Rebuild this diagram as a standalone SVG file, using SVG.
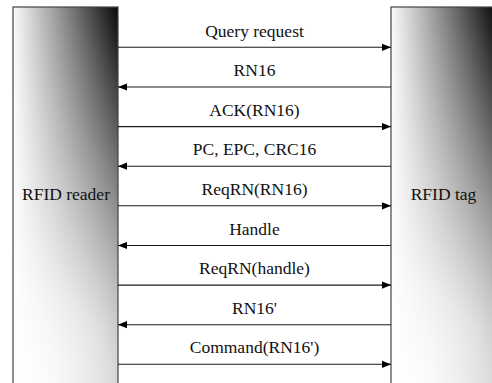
<svg xmlns="http://www.w3.org/2000/svg" width="492" height="383" viewBox="0 0 492 383">
  <defs>
    <linearGradient id="gL" gradientUnits="userSpaceOnUse" x1="13" y1="0" x2="118" y2="0">
      <stop offset="0" stop-color="#fbfbfb"/>
      <stop offset="1" stop-color="#080808"/>
    </linearGradient>
    <linearGradient id="gR" gradientUnits="userSpaceOnUse" x1="391" y1="0" x2="496" y2="0">
      <stop offset="0" stop-color="#fbfbfb"/>
      <stop offset="1" stop-color="#080808"/>
    </linearGradient>
    <radialGradient id="wL" gradientUnits="userSpaceOnUse" cx="13" cy="383" r="390">
      <stop offset="0" stop-color="#ffffff" stop-opacity="1"/>
      <stop offset="0.25" stop-color="#ffffff" stop-opacity="0.85"/>
      <stop offset="1" stop-color="#ffffff" stop-opacity="0"/>
    </radialGradient>
    <radialGradient id="wR" gradientUnits="userSpaceOnUse" cx="391" cy="383" r="390">
      <stop offset="0" stop-color="#ffffff" stop-opacity="1"/>
      <stop offset="0.25" stop-color="#ffffff" stop-opacity="0.85"/>
      <stop offset="1" stop-color="#ffffff" stop-opacity="0"/>
    </radialGradient>
    <marker id="ah" markerUnits="userSpaceOnUse" markerWidth="9" markerHeight="8" refX="9" refY="4" orient="auto">
      <path d="M0,0.4 L9,4 L0,7.6 Z" fill="#000"/>
    </marker>
  </defs>
  <style>
    .box { stroke: #444; stroke-width: 1.2; }
    text { font-family: "Liberation Serif", "Times New Roman", Times, serif; font-size: 17.5px; fill: #111; text-anchor: middle; }
    .msg { stroke: #1a1a1a; stroke-width: 1.1; fill: none; marker-end: url(#ah); }
  </style>

  <g id="reader">
    <rect x="13" y="7" width="105" height="390" fill="url(#gL)"/>
    <rect x="13" y="7" width="105" height="390" fill="url(#wL)"/>
    <rect class="box" x="13" y="7" width="105" height="390" fill="none"/>
    <text x="66" y="200">RFID reader</text>
  </g>

  <g id="tag">
    <rect x="391" y="7" width="105" height="390" fill="url(#gR)"/>
    <rect x="391" y="7" width="105" height="390" fill="url(#wR)"/>
    <rect class="box" x="391" y="7" width="105" height="390" fill="none"/>
    <text x="443.5" y="200">RFID tag</text>
  </g>

  <g id="connectors">
    <line class="msg" x1="118" y1="47.3" x2="391" y2="47.3"/>
    <line class="msg" x1="391" y1="87" x2="118" y2="87"/>
    <line class="msg" x1="118" y1="126.6" x2="391" y2="126.6"/>
    <line class="msg" x1="391" y1="166.2" x2="118" y2="166.2"/>
    <line class="msg" x1="118" y1="205.8" x2="391" y2="205.8"/>
    <line class="msg" x1="391" y1="245.5" x2="118" y2="245.5"/>
    <line class="msg" x1="118" y1="285.1" x2="391" y2="285.1"/>
    <line class="msg" x1="391" y1="324.7" x2="118" y2="324.7"/>
    <line class="msg" x1="118" y1="364.3" x2="391" y2="364.3"/>
  </g>

  <g id="labels">
    <text x="254.5" y="36.5">Query request</text>
    <text x="254.5" y="76">RN16</text>
    <text x="254.5" y="115.6">ACK(RN16)</text>
    <text x="254.5" y="155.2">PC, EPC, CRC16</text>
    <text x="254.5" y="194.8">ReqRN(RN16)</text>
    <text x="254.5" y="234.5">Handle</text>
    <text x="254.5" y="274.1">ReqRN(handle)</text>
    <text x="254.5" y="313.7">RN16'</text>
    <text x="254.5" y="353.3">Command(RN16')</text>
  </g>
</svg>
